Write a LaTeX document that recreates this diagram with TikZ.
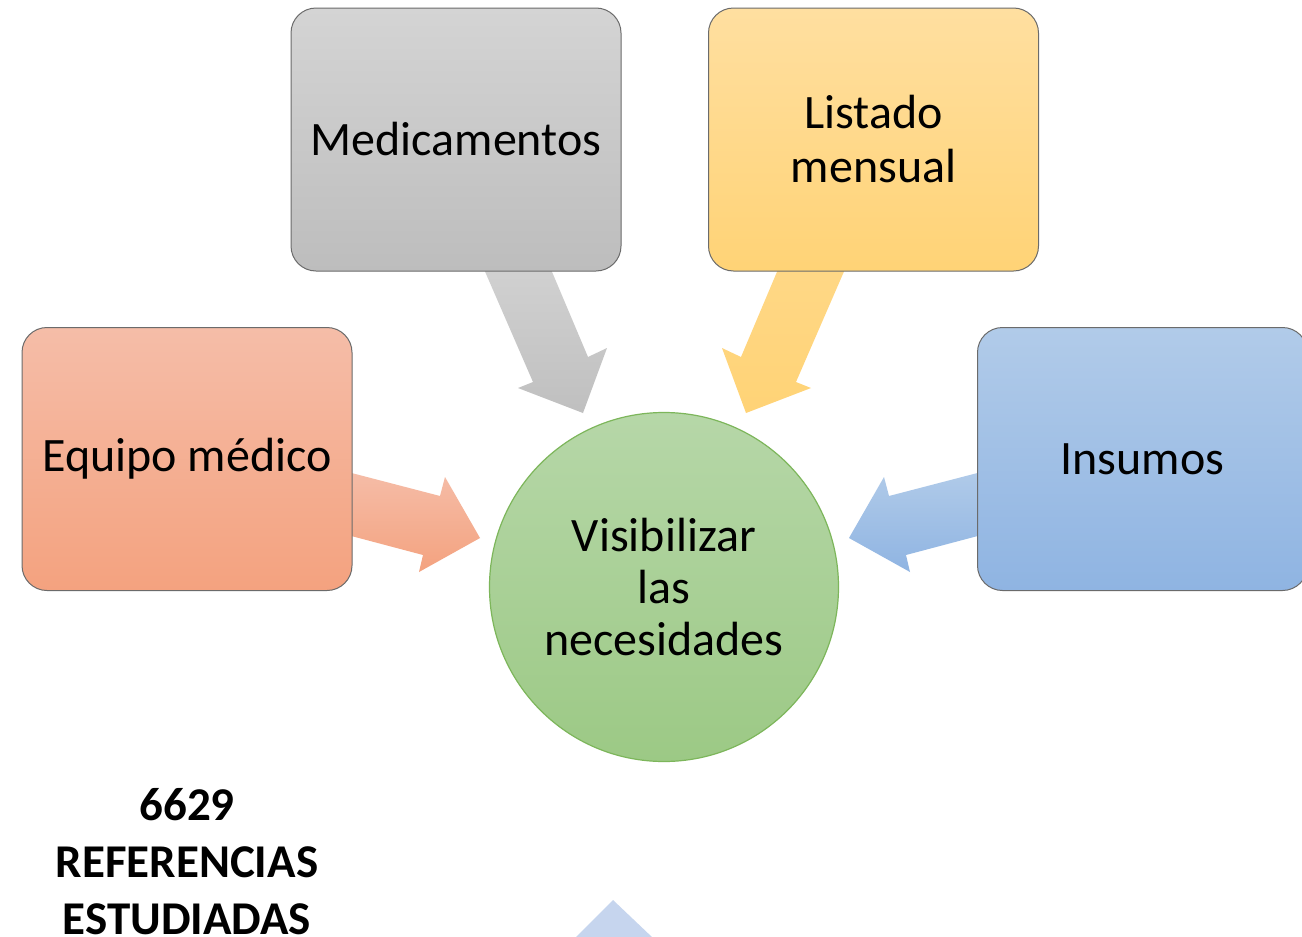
\documentclass[tikz,border=0pt]{standalone}
\usepackage{fontspec}
\setmainfont{Carlito}
\definecolor{grayT}{HTML}{D4D4D4}\definecolor{grayB}{HTML}{BDBDBD}
\definecolor{yelT}{HTML}{FFDFA0}\definecolor{yelB}{HTML}{FFD376}
\definecolor{salT}{HTML}{F5BDA8}\definecolor{salB}{HTML}{F4A27F}
\definecolor{bluT}{HTML}{B1CBE9}\definecolor{bluB}{HTML}{8FB4E2}
\definecolor{grnT}{HTML}{B6D7A8}\definecolor{grnB}{HTML}{9CC985}
\definecolor{grnD}{HTML}{7DB65B}
\definecolor{edge}{HTML}{6B6B6B}
\definecolor{tri}{HTML}{C6D5EE}
\begin{document}
\begin{tikzpicture}[x=1pt,y=-1pt,
  box/.style={rectangle, rounded corners=25pt, draw=edge, line width=1pt,
    minimum width=330pt, minimum height=263pt, align=center, inner sep=0pt,
    font=\fontsize{48}{54}\selectfont},
  hub/.style={circle, draw=grnD, line width=1.2pt, minimum size=349pt,
    top color=grnT, bottom color=grnB, align=center, inner sep=0pt,
    font=\fontsize{48}{52}\selectfont}]
\clip (0,0) rectangle (1302,937);
\fill[white] (0,0) rectangle (1302,937);
% block arrows
\shade[top color=salT, bottom color=salB] (340,470) -- (440,496) -- (445,477) -- (480,538) -- (419,572) -- (423,555) -- (340,533) -- cycle;
\shade[top color=bluT, bottom color=bluB] (989,470) -- (889,496) -- (884,477) -- (849,538) -- (910,572) -- (906,555) -- (989,533) -- cycle;
\shade[top color=grayT!90!grayB, bottom color=grayB!90!grayT] (480,260) -- (547,260) -- (588,357) -- (607,348) -- (583,413) -- (518,388) -- (533,382) -- cycle;
\shade[top color=yelB!60!yelT, bottom color=yelB] (782,260) -- (849,260) -- (796,382) -- (811,388) -- (746,413) -- (722,348) -- (741,357) -- cycle;
% boxes
\node[box, top color=grayT, bottom color=grayB] (med) at (456,139.5) {Medicamentos};
\node[box, top color=yelT, bottom color=yelB] (lis) at (873.5,139.5) {Listado\\mensual};
\node[box, top color=salT, bottom color=salB] (equ) at (187,459) {Equipo médico};
\node[box, top color=bluT, bottom color=bluB] (ins) at (1142.5,459) {Insumos};
\node[hub] (vis) at (664,587) {\raisebox{3pt}{\parbox{300pt}{\centering Visibilizar\\las\\necesidades}}};
% label
\node[align=center, font=\fontsize{47}{57}\selectfont\bfseries] (ref) at (187,862) {6629\\REFERENCIAS\\ESTUDIADAS};
% bottom triangle
\fill[tri] (613,900) -- (575,938) -- (653,938) -- cycle;
\end{tikzpicture}
\end{document}
